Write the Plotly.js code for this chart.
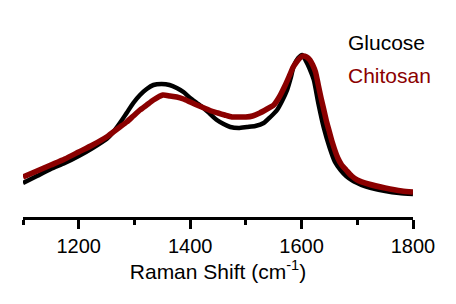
<!DOCTYPE html>
<html>
<head>
<meta charset="utf-8">
<script src="https://cdn.plot.ly/plotly-3.0.1.min.js"></script>
<style>html,body{margin:0;padding:0;background:#fff;}#chart{width:456px;height:304px;}</style>
</head>
<body>
<div id="chart"></div>
<script>
// Raman shift (cm^-1) and intensity (arb. units)
const glucoseShift = [1100,1125,1150,1175,1200,1225,1250,1262,1274,1286,1298,1310,1322,1334,1349,1363,1376,1388,1400,1412,1424,1436,1448,1460,1472,1487,1502,1517,1532,1544,1556,1565,1574,1580,1586,1594,1601,1607,1614,1622,1630,1640,1650,1660,1670,1680,1690,1700,1712,1725,1750,1775,1800];
const glucoseIntensity = [34,41,48,54,61,69,78,85,94,104,114,122,128,132,133,132,129,125,119,114,109,103,97,93,90,89,90,91,94,100,107,116,127,138,151,159,162,157,149,137,114,89,70,55,47,41,37,34,31,29,26,24,23];
const chitosanShift = [1100,1125,1150,1175,1200,1225,1250,1262,1274,1286,1298,1310,1322,1334,1351,1364,1376,1388,1400,1412,1425,1438,1450,1462,1475,1487,1500,1512,1525,1538,1550,1560,1570,1578,1585,1591,1597,1603,1609,1615,1620,1625,1630,1635,1640,1645,1650,1655,1665,1672,1680,1690,1700,1720,1750,1780,1800];
const chitosanIntensity = [40,46,52,58,65,72,80,85,90,95,101,107,112,117,122,121,120,118,115,112,109,106,104,102,100,100,100,101,104,108,112,120,131,141,150,155,159,161,160,157,152,145,132,119,107,95,85,75,59,52,47,41,37,33,29,26,25];
const seriesNames = ["Glucose", "Chitosan"];
const seriesColors = ["#000000", "#8b0000"];
const xTitle = "Raman Shift (cm<sup>-1</sup>)";

const font = "Liberation Sans, Arial, sans-serif";
const traces = [
  {x: glucoseShift, y: glucoseIntensity, name: seriesNames[0], mode: "lines",
   line: {color: seriesColors[0], width: 4.5, shape: "spline", smoothing: 0.6}},
  {x: chitosanShift, y: chitosanIntensity, name: seriesNames[1], mode: "lines",
   line: {color: seriesColors[1], width: 5.5, shape: "spline", smoothing: 0.6}}
];
const layout = {
  width: 456, height: 304,
  margin: {l: 23, r: 43, t: 20, b: 87},
  paper_bgcolor: "#fff", plot_bgcolor: "#fff",
  showlegend: false,
  font: {family: font, color: "#000"},
  xaxis: {
    range: [1100, 1800], tick0: 1200, dtick: 200,
    showline: true, linecolor: "#000", linewidth: 3,
    ticks: "outside", ticklen: 9, tickwidth: 3, tickcolor: "#000",
    minor: {dtick: 100, tick0: 1100, ticks: "outside", ticklen: 5, tickwidth: 3, tickcolor: "#000"},
    showgrid: false, zeroline: false,
    tickfont: {family: font, size: 20, color: "#000"},
    title: {text: xTitle, font: {family: font, size: 21, color: "#000"}, standoff: 0}
  },
  yaxis: {range: [0, 197], visible: false, showgrid: false, zeroline: false},
  annotations: [
    {text: seriesNames[0], xref: "paper", yref: "paper", x: 0.828, y: 0.888, xanchor: "left", yanchor: "middle",
     showarrow: false, font: {family: font, size: 21, color: seriesColors[0]}},
    {text: seriesNames[1], xref: "paper", yref: "paper", x: 0.828, y: 0.716, xanchor: "left", yanchor: "middle",
     showarrow: false, font: {family: font, size: 21, color: seriesColors[1]}}
  ]
};
Plotly.newPlot("chart", traces, layout, {displayModeBar: false, staticPlot: true});
</script>
</body>
</html>
